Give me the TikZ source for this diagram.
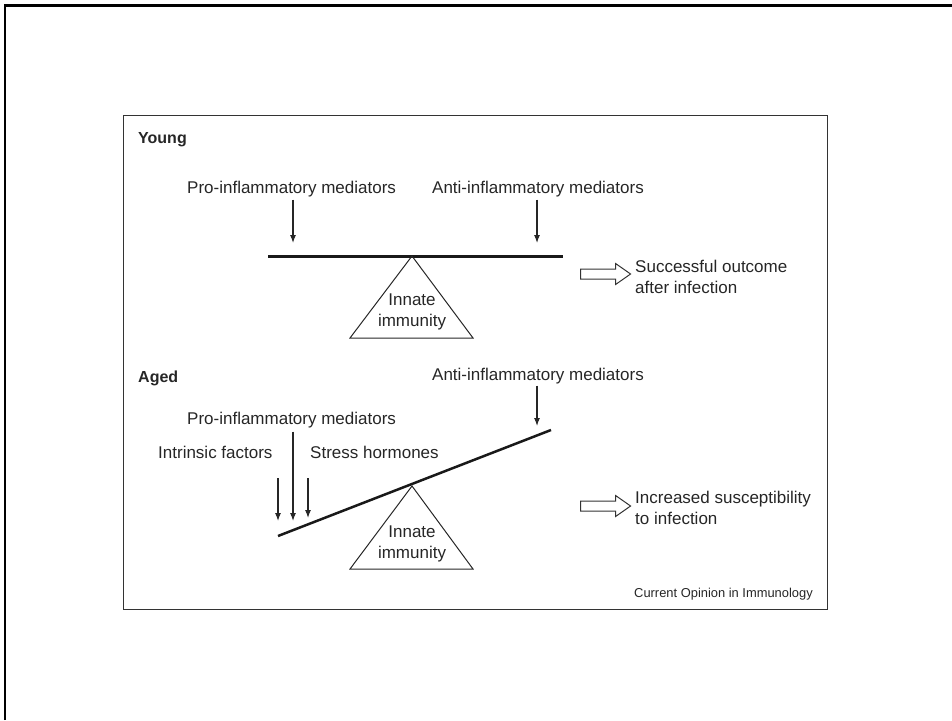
\documentclass[tikz,border=0pt]{standalone}
\usepackage{fontspec}
\setmainfont{Liberation Sans}
\usetikzlibrary{arrows.meta, positioning, shapes.arrows}

\begin{document}
\begin{tikzpicture}[x=1pt, y=-1pt,
  lbl/.style={font=\fontsize{17}{20.5}\selectfont, inner sep=0pt, text=black!85},
  ttl/.style={font=\bfseries\fontsize{16}{19}\selectfont, inner sep=0pt, text=black!85},
  arr/.style={-{Latex[length=8pt,width=6pt]}, line width=1.1pt, black!85},
  outcome/.style={single arrow, draw, line width=1pt, black!80, minimum height=50pt,
    inner sep=4.5pt, single arrow head extend=5.5pt, single arrow tip angle=70}]
  \useasboundingbox (0,0) rectangle (952,720);
  \draw[line width=2.5pt] (5,720) -- (5,5.5) -- (952,5.5);
  \draw[line width=1pt, black!80] (123,115) rectangle (827,609);

  % young
  \node[ttl, anchor=base west] (young) at (138,143) {Young};
  \node[lbl, anchor=base west] (ypro) at (187,193) {Pro-inflammatory mediators};
  \node[lbl, anchor=base west] (yanti) at (432,193) {Anti-inflammatory mediators};
  \coordinate (ypivot) at (412,256);
  \coordinate (ytipA) at (293,243);
  \coordinate (ytipB) at (537,243);
  \draw[line width=3pt, black!90] (268,256) -- (563,256);
  \draw[line width=1pt, black!85] (ypivot) -- (473,338) -- (350,338) -- cycle;
  \node[lbl, align=center, anchor=north] (yinnate) at (412,294) {Innate\\immunity};
  \draw[arr, shorten <=3pt] (ytipA |- ypro.south) -- (ytipA);
  \draw[arr, shorten <=3pt] (ytipB |- yanti.south) -- (ytipB);
  \node[outcome] (yout) at (602,274) {};
  \node[lbl, align=left, anchor=north west] (yres) at (635,260) {Successful outcome\\after infection};

  % aged
  \node[ttl, anchor=base west] (aged) at (138,382) {Aged};
  \node[lbl, anchor=base west] (aanti) at (432,380) {Anti-inflammatory mediators};
  \node[lbl, anchor=base west] (apro) at (187,424) {Pro-inflammatory mediators};
  \node[lbl, anchor=base west] (intr) at (158,458) {Intrinsic factors};
  \node[lbl, anchor=base west] (stress) at (310,458) {Stress hormones};
  \coordinate (abeamL) at (278,536);
  \coordinate (abeamR) at (551,430);
  \coordinate (apivot) at (412,486);
  \draw[line width=2.5pt, black!90] (abeamL) -- (abeamR);
  \draw[line width=1pt, black!85] (apivot) -- (473,569) -- (350,569) -- cycle;
  \node[lbl, align=center, anchor=north] (ainnate) at (412,526) {Innate\\immunity};
  \coordinate (atipA) at (537,426);
  \coordinate (atipB) at (293,521);
  \coordinate (atipL) at (278,521);
  \coordinate (atipR) at (308,518);
  \draw[arr, shorten <=2pt] (atipA |- aanti.south) -- (atipA);
  \draw[arr, shorten <=4pt] (atipB |- apro.south) -- (atipB);
  \draw[arr, shorten <=20pt] (atipL |- intr.south) -- (atipL);
  \draw[arr, shorten <=20pt] (atipR |- stress.south) -- (atipR);
  \node[outcome] (aout) at (602,506) {};
  \node[lbl, align=left, anchor=north west] (ares) at (635,491) {Increased susceptibility\\to infection};

  \node[font=\fontsize{12.9}{15}\selectfont, inner sep=0pt, text=black!85, anchor=base west] (src) at (634,597) {Current Opinion in Immunology};
\end{tikzpicture}
\end{document}
